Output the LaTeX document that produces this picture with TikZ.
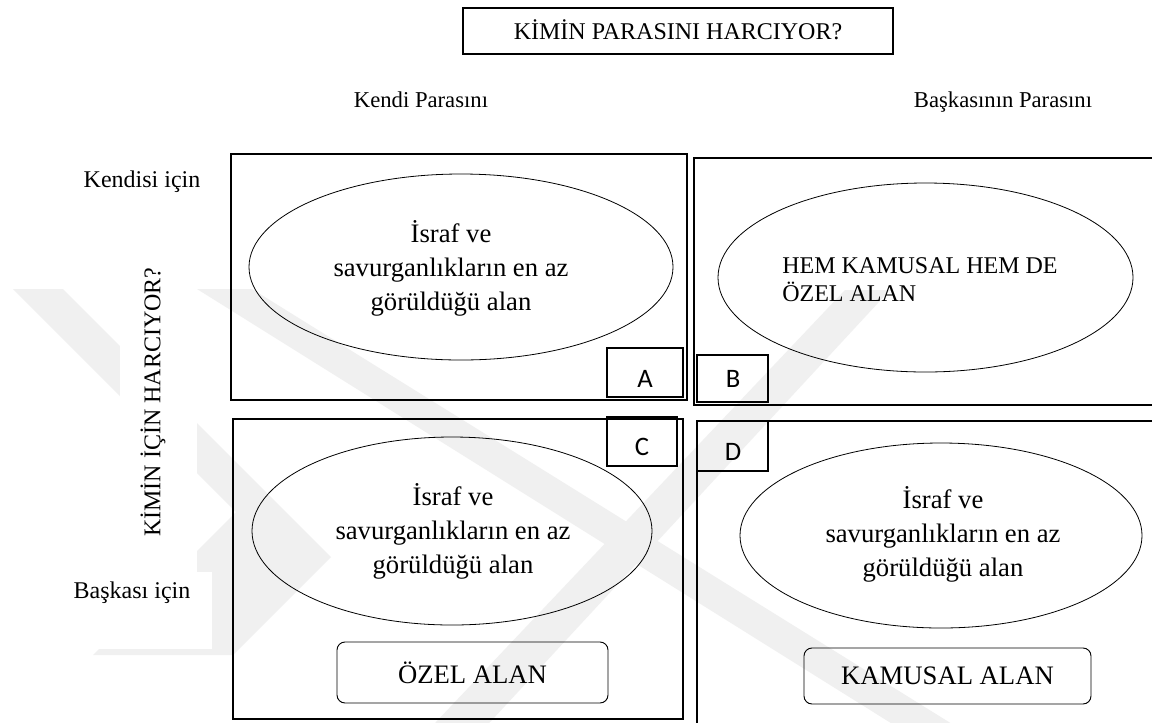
\documentclass[tikz,border=0pt]{standalone}
\usepackage{fontspec}
\setmainfont{Liberation Serif}
\newfontfamily\lettersf{Carlito}
\usetikzlibrary{shapes.geometric}
\newdimen\pxu \pxu=0.75pt
\begin{document}
\begin{tikzpicture}[x=0.75pt,y=-0.75pt,
  wm/.style={fill=black!6},
  bigbox/.style={draw,line width=1.5pt,inner sep=0pt,outer sep=0pt},
  titlebox/.style={draw,line width=1.2pt,inner sep=0pt,outer sep=0pt},
  tagbox/.style={draw,line width=0.8pt,inner sep=0pt,outer sep=0pt},
  oval/.style={draw,ellipse,line width=0.6pt,inner sep=0pt,outer sep=0pt},
  rbox/.style={draw,line width=0.7pt,rounded corners=6pt,inner sep=0pt,outer sep=0pt,font=\fontsize{20}{24}\selectfont},
  lbl/.style={inner sep=0pt,font=\fontsize{18}{21}\selectfont},
  hdr/.style={inner sep=0pt,anchor=base,font=\fontsize{17}{20}\selectfont},
  ovaltext/.style={inner sep=0pt,align=center,font=\fontsize{20}{25.5}\selectfont},
  tagtext/.style={inner sep=0pt,font=\lettersf\fontsize{20}{24}\selectfont}]
\useasboundingbox (0,0) rectangle (1152,722);
\clip (0,0) rectangle (1152,722);
\fill[white] (0,0) rectangle (1152,722);
% watermark
\fill[wm] (13,289) -- (63,289) -- (331,557) -- (233,655) -- (93,655) -- (236,512) -- cycle;
\fill[wm] (197,289) -- (252,289) -- (1010,760) -- (950,760) -- cycle;
\fill[wm] (400,760) -- (455,760) -- (890,290) -- (845,290) -- cycle;
\fill[white] (120,250) rectangle (197,572);
\fill[white] (60,572) rectangle (212,649);
% title
\node[titlebox,minimum width=430\pxu,minimum height=46\pxu] (titlebx) at (678,31) {};
\node[lbl,anchor=base] (title) at (678,39) {KİMİN PARASINI HARCIYOR?};
% headers
\node[hdr] (colown) at (421,107) {Kendi Parasını};
\node[hdr] (colother) at (1003,107) {Başkasının Parasını};
\node[lbl,anchor=base] (rowself) at (142,187) {Kendisi için};
\node[lbl,anchor=base] (rowother) at (132,598) {Başkası için};
\node[lbl,rotate=90] (who) at (153,402) {KİMİN İÇİN HARCIYOR?};
% quadrant boxes
\node[bigbox,minimum width=456\pxu,minimum height=246\pxu] (boxA) at (459,277) {};
\node[bigbox,minimum width=466\pxu,minimum height=247\pxu] (boxB) at (927,281.5) {};
\node[bigbox,minimum width=450\pxu,minimum height=300\pxu] (boxC) at (458,569) {};
\node[bigbox,minimum width=463\pxu,minimum height=319\pxu] (boxD) at (928.5,580.5) {};
% ellipses
\node[oval,minimum width=424\pxu,minimum height=186\pxu] (ovA) at (461,267) {};
\node[oval,minimum width=415\pxu,minimum height=189\pxu] (ovB) at (925.5,277.5) {};
\node[oval,minimum width=400\pxu,minimum height=188\pxu] (ovC) at (452,531) {};
\node[oval,minimum width=402\pxu,minimum height=185\pxu] (ovD) at (941,535.5) {};
\node[ovaltext] (txA) at (451,268) {İsraf ve\\savurganlıkların en az\\görüldüğü alan};
\node[ovaltext] (txC) at (453,531) {İsraf ve\\savurganlıkların en az\\görüldüğü alan};
\node[ovaltext] (txD) at (943,534) {İsraf ve\\savurganlıkların en az\\görüldüğü alan};
\node[lbl,align=left,anchor=west] (txB) at (782,280) {HEM KAMUSAL HEM DE\\ÖZEL ALAN};
% tag boxes
\node[tagbox,minimum width=76\pxu,minimum height=49\pxu] (tagA) at (645,372.5) {};
\node[tagbox,minimum width=71\pxu,minimum height=47\pxu] (tagB) at (732.5,378.5) {};
\node[tagbox,minimum width=70\pxu,minimum height=49\pxu] (tagC) at (642,441.5) {};
\node[tagbox,minimum width=71\pxu,minimum height=50\pxu] (tagD) at (732.5,446) {};
\node[tagtext] (lA) at (645,379) {A};
\node[tagtext] (lB) at (733,379) {B};
\node[tagtext] (lC) at (642,447) {C};
\node[tagtext] (lD) at (733,452) {D};
% rounded boxes
\node[rbox,minimum width=271\pxu,minimum height=61\pxu] (ozel) at (472.5,672.5) {ÖZEL ALAN};
\node[rbox,minimum width=287\pxu,minimum height=56\pxu] (kamu) at (947.5,676) {KAMUSAL ALAN};
\end{tikzpicture}
\end{document}
